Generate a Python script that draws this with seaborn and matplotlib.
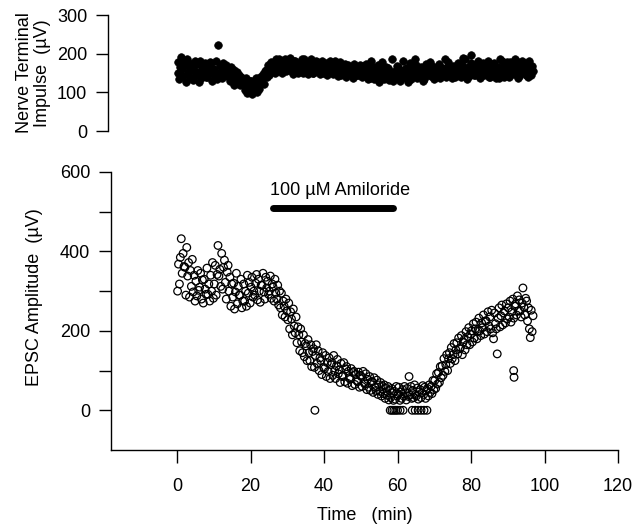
import numpy as np
import pandas as pd
import matplotlib
matplotlib.use("Agg")
import matplotlib.pyplot as plt
import seaborn as sns

sns.set_style("ticks")
plt.rcParams['font.family'] = ['Liberation Sans', 'DejaVu Sans']
plt.rcParams['text.color'] = 'black'
plt.rcParams['axes.labelcolor'] = 'black'
plt.rcParams['xtick.color'] = 'black'
plt.rcParams['ytick.color'] = 'black'
plt.rcParams['axes.edgecolor'] = 'black'

# four samples per minute, minutes 0..96
minutes = list(range(97))
sample_offsets = [0.125, 0.375, 0.625, 0.875]

# nerve terminal impulse amplitude (uV), 4 values per minute
nti = [
    150, 178, 135, 165, 192, 160, 142, 175, 170, 128, 185, 150, 155, 175, 140, 162,
    168, 132, 158, 180, 145, 172, 150, 128, 180, 155, 138, 165, 162, 148, 175, 140,
    140, 165, 152, 178, 175, 158, 130, 148, 160, 145, 182, 135, 222, 150, 168, 140,
    138, 162, 175, 150, 155, 170, 142, 160, 150, 130, 165, 142, 142, 158, 120, 135,
    135, 152, 128, 145, 118, 140, 132, 125, 125, 105, 138, 115, 98, 120, 112, 130,
    130, 95, 118, 108, 115, 138, 102, 125, 125, 108, 140, 132, 135, 148, 122, 155,
    158, 140, 170, 150, 145, 165, 178, 155, 160, 175, 150, 185, 172, 155, 185, 162,
    162, 178, 150, 170, 168, 185, 155, 175, 175, 158, 190, 165, 160, 172, 148, 182,
    180, 162, 170, 150, 155, 175, 165, 185, 168, 150, 185, 160, 172, 160, 148, 178,
    165, 185, 158, 150, 150, 170, 162, 180, 178, 155, 168, 148, 160, 182, 150, 172,
    170, 158, 175, 145, 152, 168, 180, 160, 165, 148, 172, 182, 175, 160, 155, 142,
    158, 178, 145, 168, 168, 152, 172, 140, 160, 145, 170, 155, 150, 165, 155, 138,
    172, 148, 160, 145, 145, 162, 155, 170, 158, 140, 168, 150, 150, 172, 145, 135,
    162, 138, 155, 180, 148, 165, 135, 158, 155, 142, 170, 128, 140, 158, 150, 178,
    160, 135, 148, 165, 145, 162, 132, 152, 152, 140, 185, 130, 138, 155, 148, 168,
    165, 142, 130, 155, 150, 180, 158, 140, 140, 162, 148, 128, 155, 175, 135, 160,
    145, 160, 152, 185, 170, 138, 158, 148, 150, 165, 142, 130, 135, 158, 172, 150,
    160, 145, 150, 178, 142, 168, 155, 135, 158, 140, 165, 150, 150, 172, 138, 160,
    162, 148, 155, 185, 140, 165, 178, 150, 155, 145, 162, 138, 168, 150, 140, 158,
    145, 175, 158, 165, 160, 140, 170, 188, 152, 185, 148, 135, 165, 142, 158, 175,
    196, 155, 170, 145, 145, 162, 150, 180, 170, 138, 160, 152, 150, 175, 145, 165,
    162, 148, 180, 140, 140, 168, 155, 172, 175, 150, 162, 138, 148, 165, 138, 185,
    160, 180, 152, 140, 145, 170, 158, 178, 165, 140, 178, 152, 155, 172, 148, 185,
    182, 150, 165, 138, 142, 168, 158, 180, 170, 155, 175, 145, 150, 165, 140, 182,
    160, 145, 168, 155,
]

# EPSC amplitude (uV), 4 values per minute
epsc = [
    300, 368, 318, 385, 432, 345, 395, 362, 360, 290, 410, 338, 372, 285, 352, 312,
    380, 298, 340, 275, 325, 288, 352, 302, 310, 345, 280, 328, 270, 330, 305, 292,
    358, 292, 318, 275, 340, 300, 372, 282, 318, 365, 290, 342, 415, 338, 355, 312,
    395, 305, 360, 378, 322, 280, 348, 365, 300, 335, 262, 318, 285, 320, 255, 298,
    345, 268, 312, 290, 290, 330, 258, 275, 318, 275, 300, 262, 340, 295, 322, 270,
    310, 335, 285, 300, 290, 320, 342, 278, 330, 300, 272, 315, 315, 345, 298, 280,
    335, 308, 325, 292, 300, 338, 282, 318, 310, 275, 330, 295, 280, 315, 265, 300,
    258, 295, 240, 275, 262, 235, 280, 250, 228, 270, 205, 248, 230, 190, 255, 212,
    195, 235, 170, 210, 190, 150, 205, 172, 145, 190, 135, 168, 162, 125, 178, 145,
    125, 165, 110, 148, 155, 108, 138, 165, 118, 150, 100, 132, 125, 90, 145, 108,
    105, 138, 85, 120, 98, 132, 80, 115, 120, 88, 138, 100, 80, 112, 128, 92,
    102, 70, 118, 85, 88, 120, 72, 104, 110, 68, 98, 82, 78, 105, 62, 95,
    98, 65, 90, 75, 72, 96, 58, 88, 85, 60, 98, 70, 66, 92, 52, 78,
    58, 85, 50, 72, 72, 45, 82, 58, 50, 76, 40, 64, 48, 70, 36, 60,
    42, 64, 30, 55, 38, 60, 26, 50, 32, 55, 44, 25, 48, 28, 60, 36,
    40, 58, 25, 46, 30, 52, 36, 60, 44, 26, 55, 35, 85, 38, 60, 30,
    50, 32, 64, 40, 36, 56, 28, 46, 52, 32, 44, 62, 40, 58, 30, 50,
    55, 36, 64, 45, 60, 42, 75, 52, 75, 55, 92, 66, 95, 70, 110, 82,
    112, 88, 130, 98, 115, 140, 100, 130, 145, 118, 158, 130, 140, 168, 125, 152,
    170, 142, 182, 155, 158, 188, 140, 172, 178, 152, 198, 165, 185, 208, 165, 192,
    200, 172, 218, 182, 205, 222, 180, 200, 232, 200, 188, 220, 208, 240, 192, 225,
    225, 198, 248, 212, 235, 205, 252, 195, 180, 245, 218, 205, 142, 232, 258, 210,
    238, 265, 215, 245, 250, 220, 268, 230, 258, 235, 275, 222, 248, 280, 232, 262,
    268, 240, 288, 250, 278, 250, 235, 270, 308, 260, 240, 282, 275, 225, 258, 205,
    183, 252, 198, 238,
]

# failures (0 uV) and isolated low responses
fail_time = [37.5, 58.0, 58.5, 59.0, 59.5, 60.0, 60.7, 61.5,
             64.0, 64.8, 65.6, 66.4, 67.2, 68.0]
fail_value = [0] * len(fail_time)
low_time = [91.6, 91.7]
low_value = [100, 83]

amiloride_on, amiloride_off = 26.0, 58.8
amiloride_label = "100 \u00b5M Amiloride"

time = [m + o for m in minutes for o in sample_offsets]
df_top = pd.DataFrame({"time": time, "nti": nti})
df_bot = pd.DataFrame({"time": time + fail_time + low_time,
                       "epsc": epsc + fail_value + low_value})

FS = 13
W, H = 636, 529
fig = plt.figure(figsize=(W / 100, H / 100), dpi=100)
ax_top = fig.add_axes([108 / W, 1 - 131 / H, 510 / W, 116 / H])
ax_bot = fig.add_axes([111 / W, 1 - 450 / H, 507 / W, 278 / H])

# top panel: nerve terminal impulse
sns.scatterplot(data=df_top, x="time", y="nti", ax=ax_top, s=30,
                color="black", edgecolor="black", linewidth=0.5)
ax_top.set_xlim(-18.8, 120)
ax_top.set_ylim(0, 300)
ax_top.set_yticks([0, 100, 200, 300])
for sp in ["top", "right", "bottom"]:
    ax_top.spines[sp].set_visible(False)
ax_top.set_xticks([])
ax_top.set_xlabel("")
ax_top.set_ylabel("Nerve Terminal\nImpulse  (\u00b5V)", fontsize=FS,
                  linespacing=1.1)
ax_top.yaxis.set_label_coords(-0.112, 0.5)

# bottom panel: EPSC amplitude
sns.scatterplot(data=df_bot, x="time", y="epsc", ax=ax_bot, s=30,
                facecolor="none", edgecolor="black", linewidth=0.9)
ax_bot.set_xlim(-18, 120)
ax_bot.set_ylim(-100, 600)
ax_bot.set_xticks([0, 20, 40, 60, 80, 100, 120])
ax_bot.set_yticks([0, 200, 400, 600])
ax_bot.set_yticks([100, 300, 500], minor=True)
for sp in ["top", "right"]:
    ax_bot.spines[sp].set_visible(False)
ax_bot.set_xlabel("Time   (min)", fontsize=FS, labelpad=9)
ax_bot.set_ylabel("EPSC Amplitude  (\u00b5V)", fontsize=FS)
ax_bot.yaxis.set_label_coords(-0.135, 0.55)

ax_bot.plot([amiloride_on, amiloride_off], [510, 510], color="black", lw=5,
            solid_capstyle="round")
ax_bot.text(amiloride_on - 0.8, 533, amiloride_label, fontsize=FS,
            ha="left", va="bottom")

for ax in (ax_top, ax_bot):
    for sp in ax.spines.values():
        sp.set_linewidth(1.0)
    ax.tick_params(axis="both", which="both", direction="out", length=9,
                   width=1.0, labelsize=FS)
ax_bot.tick_params(axis="x", pad=11)
ax_bot.tick_params(axis="y", pad=6)
ax_top.tick_params(axis="y", pad=6)

fig.savefig("out.png", dpi=100)
